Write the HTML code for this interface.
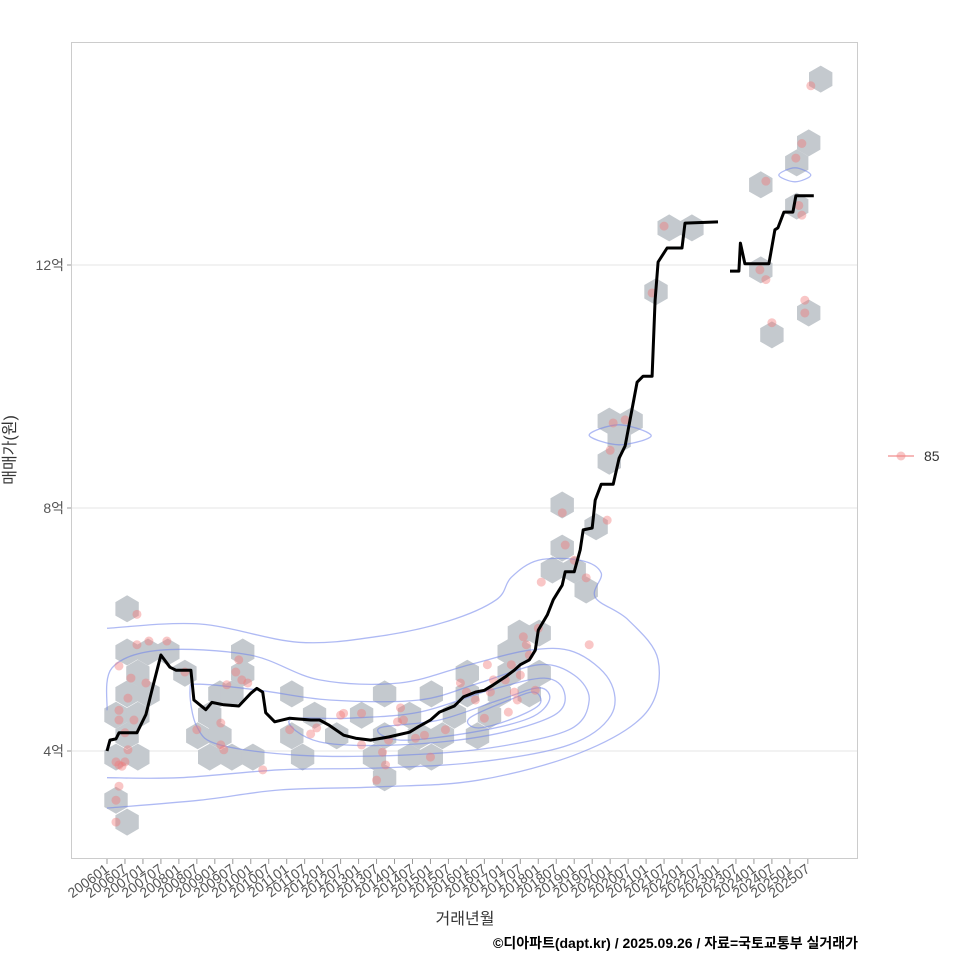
<!DOCTYPE html>
<html><head><meta charset="utf-8"><style>
body{margin:0;background:#fff;}
svg{display:block;font-family:"Liberation Sans","Noto Sans CJK KR",sans-serif;}
</style></head><body>
<svg id="chart" width="960" height="960" viewBox="0 0 960 960">
<rect x="0" y="0" width="960" height="960" fill="#fff"/>
<rect x="71.5" y="42.5" width="786" height="816" fill="#fff" stroke="#cccccc"/>
<g id="grid"></g>
<g id="hexes"></g>
<g id="contours"></g>
<g id="points"></g>
<g id="line"></g>
<g id="axes"></g>
<text x="15" y="450" transform="rotate(-90 15 450)" text-anchor="middle" font-size="16" fill="#333">매매가(원)</text>
<text x="465" y="924" text-anchor="middle" font-size="16" fill="#333">거래년월</text>
<text x="858" y="948" text-anchor="end" font-size="14" font-weight="bold" fill="#000">©디아파트(dapt.kr) / 2025.09.26 / 자료=국토교통부 실거래가</text>
<g>
<line x1="888" y1="456" x2="914" y2="456" stroke="#f4a0a0" stroke-width="1.5"/>
<circle cx="901" cy="456" r="4.5" fill="rgba(240,128,128,0.45)"/>
<text x="924" y="461" font-size="14" fill="#333">85</text>
</g>
</svg>
<script>
// ---- data ----
const yTicks = [4, 8, 12];
const yTickLabels = ["4억", "8억", "12억"];
const xTickLabels = [];
for (let y = 2006; y <= 2025; y++) { xTickLabels.push(y + "01"); xTickLabels.push(y + "07"); }
const lineMonths = [0,1,3,4,10,13,15,18,21,23,28,29,33,35,39,44,48,50,52,53,56,61,68,71,74,79,83,88,94,101,104,108,111,116,119,123,126,129,133,136,138,141,143,144,147,149,152,153,156,158,159,162,163,165,169,171,173,174,177,179,182,183,184,187,192,193,204,null,208,211,211.5,213,221,223,224,226,229,230,236];
const lineValues = [4.0,4.18,4.2,4.3,4.3,4.6,5.0,5.58,5.38,5.33,5.33,4.84,4.68,4.8,4.76,4.74,4.95,5.03,4.97,4.63,4.48,4.54,4.51,4.51,4.43,4.26,4.21,4.18,4.23,4.31,4.4,4.51,4.64,4.74,4.89,4.97,5.0,5.09,5.22,5.33,5.42,5.5,5.66,5.99,6.24,6.49,6.73,6.95,6.95,7.31,7.64,7.67,8.13,8.39,8.39,8.82,9.02,9.28,10.07,10.17,10.17,11.42,12.05,12.28,12.28,12.69,12.71,null,11.9,11.9,12.36,12.02,12.02,12.58,12.61,12.87,12.87,13.14,13.14];
const hexMonths = [6.7,6.7,13.7,10.3,6.7,13.7,3,10.3,6.7,3,10.3,3,6.7,26,20.3,30.3,34.3,37.7,45.3,45.3,41.7,34.3,41.7,48.7,37.7,61.7,61.7,65.3,69.3,76.7,85,92.7,92.7,89.3,92.7,101,101,104.3,108.3,112,108.3,116,120.3,120.3,123.7,127.7,131,134.3,137.7,137.7,134.3,141,144.3,144.3,148.7,152,152,156,160,163.3,167.7,171,167.7,175,187.7,195.3,183.3,218.3,218.3,222,230.3,234.3,238.3,234.3,230.3];
const hexValues = [6.34,5.63,5.63,5.28,4.94,4.94,4.59,4.59,4.25,3.90,3.90,3.19,2.83,5.28,5.63,4.25,4.59,4.94,5.63,5.28,4.94,3.90,3.90,3.90,4.25,4.94,4.25,3.90,4.59,4.25,4.59,4.94,4.25,3.90,3.56,4.59,3.90,4.25,4.94,4.25,3.90,4.59,4.94,5.28,4.25,4.59,4.94,5.28,5.63,5.94,5.63,4.94,5.28,5.94,6.98,8.05,7.34,6.98,6.65,7.69,9.43,9.12,8.77,9.43,12.61,12.61,11.56,13.32,11.92,10.85,13.68,14.01,15.06,11.21,12.97];
const ptMonths = [10,10,14,20,4,8,13,7,4,4,9,6,7,3,5,6,4,3,3,4,26,30,38,38,39,43,44,45,47,40,52,61,68,70,78,79,85,85,90,92,93,97,99,98,94,103,106,108,113,118,120,123,126,127,128,129,133,134,135,136,137,139,140,141,138,143,144,145,152,153,156,160,161,167,168,169,173,182,186,218,220,220,222,230,232,232,233,233,235,231];
const ptValues = [6.25,5.75,5.81,5.81,5.4,5.2,5.12,4.87,4.67,4.51,4.51,4.3,4.02,3.82,3.75,3.82,3.42,3.19,2.83,3.77,5.3,4.35,4.46,4.1,4.02,5.3,5.5,5.17,5.12,5.09,3.69,4.35,4.28,4.38,4.59,4.62,4.62,4.1,3.52,3.98,3.77,4.48,4.51,4.71,4.18,4.21,4.26,3.9,4.35,5.12,4.97,4.84,4.54,5.42,4.97,5.17,5.17,4.64,5.42,4.97,4.84,5.88,5.75,5.58,5.25,5.0,6.02,6.78,7.92,7.39,7.14,6.85,5.75,7.8,8.95,9.4,9.45,11.54,12.64,11.92,13.38,11.76,11.05,13.76,14.0,12.82,11.42,11.21,14.95,12.98];
const contourLevels = [
 {closed:false, pts:[[0,6.02],[31,6.09],[64,5.79],[91,5.89],[114,6.14],[130,6.49],[135,6.86],[144,7.14],[158,7.14],[165,6.93],[163,6.53],[174,6.16],[184,5.5],[180,4.63],[158,3.97],[124,3.52],[91,3.41],[58,3.36],[31,3.19],[0,3.06]]},
 {closed:false, pts:[[0,4.67],[1.7,5.37],[17.7,5.66],[47.7,5.58],[71,5.17],[97.7,5.12],[121,5.42],[141,5.66],[156,5.63],[167.7,5.17],[168.3,4.59],[154.3,4.1],[124.3,3.82],[91,3.72],[57.7,3.69],[24.3,3.56],[0,3.56]]},
 {closed:true, pts:[[27.7,5.0],[31,5.1],[51,5.0],[74.3,4.84],[104.3,4.84],[124.3,5.12],[144.3,5.42],[156,5.25],[161,4.84],[154.3,4.35],[127.7,4.05],[97.7,3.93],[64.3,3.93],[37.7,4.1],[30,4.4]]},
 {closed:true, pts:[[61,4.51],[81,4.54],[104.3,4.64],[127.7,5.0],[146,5.2],[152.7,4.97],[149.3,4.59],[127.7,4.26],[97.7,4.1],[71,4.15]]},
 {closed:true, pts:[[91,4.38],[111,4.51],[131,4.84],[144.3,5.04],[147.7,4.84],[141,4.54],[121,4.3],[97.7,4.18]]},
 {closed:true, pts:[[121,4.54],[134.3,4.84],[142.7,4.97],[144.3,4.76],[134.3,4.51],[123.7,4.38]]},
 {closed:true, pts:[[161,9.2],[171,9.37],[181.7,9.19],[171,9.04]]},
 {closed:true, pts:[[224.3,13.48],[229.7,13.6],[235,13.48],[229.7,13.37]]}
];
// ---- scales ----
const X0 = 107, DX = 2.995;
function xs(m){ return X0 + m*DX; }
function ys(v){ return 751 - (v-4)*60.75; }
const NS = "http://www.w3.org/2000/svg";
function mk(tag, attrs, parent){ const e = document.createElementNS(NS, tag); for (const k in attrs) e.setAttribute(k, attrs[k]); parent.appendChild(e); return e; }
const grid = document.getElementById('grid'), axes = document.getElementById('axes');
yTicks.forEach((t,i)=>{
  const gl = mk('line',{x1:72,x2:857,y1:ys(t),y2:ys(t),stroke:'#e6e6e6','stroke-width':1},grid);
  
  
  const tk = mk('line',{x1:67,x2:71,y1:ys(t),y2:ys(t),stroke:'#999'},axes);
  
  
  const tx = mk('text',{x:64,y:ys(t)+5,'text-anchor':'end','font-size':14,fill:'#555'},axes);
  tx.textContent = yTickLabels[i];
  
  
});
xTickLabels.forEach((lab,i)=>{
  const x = xs(i*6);
  const tk = mk('line',{x1:x,x2:x,y1:859,y2:864,stroke:'#999'},axes);
  
  
  const tx = mk('text',{x:x+3,y:871,'text-anchor':'end','font-size':14,fill:'#555',transform:`rotate(-36 ${x+3} 871)`},axes);
  tx.textContent = lab;
  
  
});
// hexes
const hg = document.getElementById('hexes');
const R = 13.5;
hexMonths.forEach((m,i)=>{
  const cx = xs(m), cy = ys(hexValues[i]);
  const p = [];
  for (let k=0;k<6;k++){ const a = Math.PI/180*(90+60*k); p.push((cx+R*Math.cos(a)).toFixed(1)+','+(cy+R*Math.sin(a)).toFixed(1)); }
  const h = mk('polygon',{points:p.join(' '),fill:'#c4c9ce'},hg);
  
  
});
// contours
const cg = document.getElementById('contours');
function smooth(pts, closed){
  const P = pts.map(p=>[xs(p[0]),ys(p[1])]);
  const n = P.length; let d = 'M'+P[0][0]+','+P[0][1];
  const get = i => closed ? P[(i+n)%n] : P[Math.max(0,Math.min(n-1,i))];
  const last = closed ? n : n-1;
  for (let i=0;i<last;i++){
    const p0=get(i-1),p1=get(i),p2=get(i+1),p3=get(i+2);
    const c1=[p1[0]+(p2[0]-p0[0])/6,p1[1]+(p2[1]-p0[1])/6];
    const c2=[p2[0]-(p3[0]-p1[0])/6,p2[1]-(p3[1]-p1[1])/6];
    d+=` C${c1[0].toFixed(1)},${c1[1].toFixed(1)} ${c2[0].toFixed(1)},${c2[1].toFixed(1)} ${p2[0].toFixed(1)},${p2[1].toFixed(1)}`;
  }
  return d + (closed?'Z':'');
}
contourLevels.forEach(c=>{
  const e = mk('path',{d:smooth(c.pts,c.closed),fill:'none',stroke:'rgba(110,130,235,0.55)','stroke-width':1.3},cg);
  
  
});
// points
const pg = document.getElementById('points');
ptMonths.forEach((m,i)=>{
  const c = mk('circle',{cx:xs(m),cy:ys(ptValues[i]),r:4.5,fill:'rgba(240,120,120,0.42)'},pg);
  
  
});
// line
const lg = document.getElementById('line');
let segs = [], cur = [];
lineMonths.forEach((m,i)=>{
  if (m===null || lineValues[i]===null){ if(cur.length) segs.push(cur); cur=[]; return; }
  cur.push(xs(m).toFixed(1)+','+ys(lineValues[i]).toFixed(1));
});
if (cur.length) segs.push(cur);
segs.forEach(s=>{
  const pl = mk('polyline',{points:s.join(' '),fill:'none',stroke:'#000','stroke-width':3,'stroke-linejoin':'round'},lg);
  
  
});
</script>
</body></html>
